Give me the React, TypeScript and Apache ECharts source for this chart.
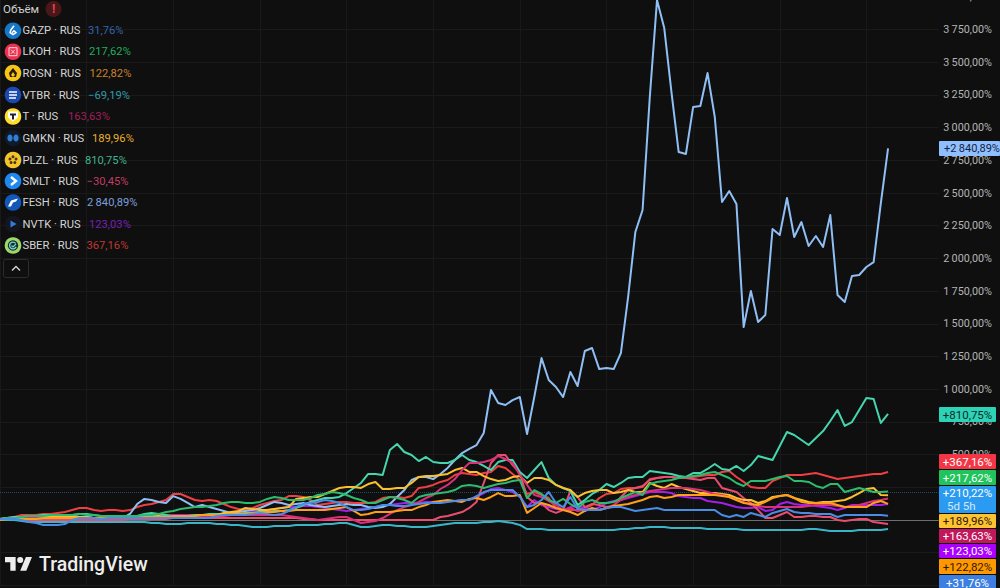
import React, { useEffect, useRef } from "react";
import * as echarts from "echarts";

const gazp = [8,8,8,0,-15,-23,-38,-38,-38,-31,0,15,15,15,8,15,15,15,15,15,15,15,15,15,15,15,15,15,15,15,31,38,38,38,38,46,54,46,38,46,69,99,122,130,138,153,145,130,99,76,76,84,99,115,115,107,107,115,122,130,130,130,138,145,153,153,183,214,229,229,229,229,176,99,115,153,214,130,99,176,84,76,76,76,92,99,99,84,69,76,84,92,76,76,76,76,76,76,76,76,38,23,38,23,54,38,23,54,69,84,61,54,54,46,46,46,23,38,38,38,38,38,38,31.76];
const lkoh = [8,15,15,23,31,31,31,38,38,38,38,46,38,38,31,31,31,31,31,31,38,38,46,61,69,84,92,99,99,107,115,130,138,138,130,130,138,161,176,168,153,153,153,168,191,199,214,206,191,168,153,130,130,153,176,168,153,130,176,191,199,206,214,229,260,268,260,245,260,275,283,298,306,168,229,199,153,130,161,122,92,138,153,130,130,138,168,191,214,191,275,291,298,306,321,329,336,344,359,367,344,321,283,260,298,298,298,313,329,336,298,298,291,260,245,275,275,214,229,245,229,214,214,217.62];
const rosn = [0,8,8,8,8,8,15,15,15,15,15,15,15,15,15,15,15,15,23,23,23,23,23,23,31,31,31,31,38,38,38,38,46,46,46,54,54,61,61,69,69,76,76,76,76,76,84,92,99,69,38,46,61,61,61,69,76,76,99,115,138,145,153,145,138,161,168,153,176,206,183,183,191,54,92,130,115,92,76,61,38,69,92,76,92,107,115,122,138,153,176,183,168,176,191,191,191,191,191,191,183,176,153,130,122,115,138,168,183,191,168,138,130,130,130,130,115,99,99,99,99,130,145,122.82];
const vtbr = [0,0,0,-8,-15,-15,-15,-15,-15,-15,-15,-15,-15,-15,-15,-15,-15,-15,-15,-15,-15,-23,-23,-31,-31,-31,-23,-23,-23,-23,-31,-31,-38,-38,-46,-54,-54,-54,-46,-46,-46,-38,-38,-38,-38,-31,-31,-23,-23,-38,-54,-54,-46,-38,-38,-46,-46,-54,-54,-54,-46,-38,-31,-23,-23,-23,-23,-15,-15,-8,-15,-23,-38,-69,-69,-69,-76,-76,-76,-76,-76,-76,-76,-76,-76,-76,-69,-69,-61,-61,-54,-54,-54,-61,-61,-61,-61,-61,-69,-69,-69,-69,-69,-76,-76,-76,-76,-76,-76,-76,-76,-76,-69,-69,-76,-84,-84,-84,-84,-76,-76,-76,-76,-69.19];
const tcs = [8,8,8,15,15,15,15,15,15,15,15,15,15,15,15,15,15,15,15,23,23,23,23,23,31,31,31,31,31,31,31,31,38,38,38,38,38,38,38,38,31,23,15,8,0,8,15,23,23,0,-23,-15,-8,15,46,76,99,115,138,168,191,237,268,313,382,436,436,443,459,489,466,436,344,268,191,176,145,115,76,92,69,76,76,76,92,115,153,176,191,206,222,229,237,245,245,245,237,229,214,199,191,176,153,138,115,107,99,99,99,99,99,99,107,115,115,115,107,99,107,115,130,145,153,163.63];
const gmkn = [8,8,15,15,15,15,23,23,31,31,31,23,23,15,15,15,15,15,23,23,23,31,31,23,31,31,31,31,38,38,38,54,61,69,92,84,76,76,84,92,99,161,168,176,176,199,222,245,252,252,245,275,291,237,237,245,245,283,329,336,336,344,352,382,398,367,367,336,313,298,306,329,336,283,321,321,306,268,245,229,176,206,222,229,229,206,214,229,214,214,283,260,245,275,252,237,222,206,206,206,199,191,168,153,153,130,145,176,183,191,168,153,138,130,138,138,145,153,176,206,237,245,191,189.96];
const plzl = [8,15,15,23,31,31,38,38,38,38,38,46,46,38,31,23,23,23,23,31,46,54,46,38,31,31,31,38,38,46,46,46,46,46,54,54,61,61,69,69,76,92,115,138,153,168,168,176,206,245,283,352,352,344,535,581,520,497,451,482,443,436,436,459,497,459,443,413,382,443,459,459,367,321,382,443,321,268,245,222,115,153,199,229,275,252,283,321,329,329,375,367,359,352,336,329,359,359,390,428,390,382,413,375,420,489,474,459,566,673,650,612,573,627,680,757,841,719,749,841,933,925,742,810.75];
const smlt = [8,8,8,8,0,0,0,0,0,0,0,0,0,0,0,0,0,0,8,8,8,8,8,8,15,15,15,15,15,15,15,15,15,15,15,15,15,15,15,15,15,15,8,8,0,0,0,0,0,0,0,0,0,0,0,0,0,0,0,0,0,23,31,46,61,92,138,283,436,497,497,420,359,176,130,130,76,54,76,222,176,99,122,115,99,107,176,229,245,260,306,321,329,329,321,321,313,306,321,321,245,229,214,168,130,76,15,15,38,61,23,23,31,31,23,23,0,-8,0,8,8,-15,-23,-30.45];
const fesh = [8,15,23,23,15,31,31,23,23,23,23,23,23,15,15,15,15,15,46,122,161,153,138,130,183,161,130,99,115,99,84,69,54,61,69,76,92,115,138,130,115,122,130,115,107,99,107,115,122,115,115,99,92,99,122,176,229,306,329,329,313,352,398,459,512,543,573,665,994,895,879,917,940,657,940,1238,1070,1017,940,1131,1024,1292,1315,1154,1162,1154,1277,1705,2202,2370,3234,3975,3761,3272,2813,2798,3157,3165,3417,3081,2431,2515,2416,1475,1751,1514,1567,2225,2179,2462,2164,2278,2095,2171,2087,2332,1720,1667,1865,1873,1934,1972,2423,2840.89];
const nvtk = [8,8,8,15,15,15,15,15,15,15,15,15,15,15,15,15,15,15,15,23,23,23,23,31,38,38,38,38,38,38,46,46,46,54,54,61,69,76,84,92,99,99,107,107,99,92,84,76,69,76,84,92,99,107,115,122,130,130,130,138,138,138,145,145,153,153,176,206,237,245,229,214,183,99,153,115,99,84,76,99,107,92,76,99,130,145,153,168,183,199,214,214,214,206,183,176,168,168,145,138,130,115,99,92,92,99,69,76,122,138,122,115,115,107,99,92,76,92,115,115,115,115,115,123.03];
const sber = [8,15,23,38,38,38,46,46,54,61,76,92,92,76,69,76,76,69,76,99,115,122,138,153,199,199,176,153,145,153,145,122,99,84,76,92,115,130,145,153,183,183,176,153,115,122,130,138,138,130,130,130,138,168,176,176,168,183,245,252,268,291,306,344,359,352,344,359,367,413,398,352,306,199,214,191,168,92,76,76,76,92,115,168,199,206,237,245,245,252,313,321,329,329,321,329,329,336,344,344,367,375,329,291,252,245,245,298,321,344,344,344,352,359,344,329,313,321,329,336,344,352,352,367.16];

const tickers = ["GAZP","LKOH","ROSN","VTBR","T","GMKN","PLZL","SMLT","FESH","NVTK","SBER"];
const changes = ["31,76%","217,62%","122,82%","−69,19%","163,63%","189,96%","810,75%","−30,45%","2\u2009840,89%","123,03%","367,16%"];
const seriesValues = [gazp,lkoh,rosn,vtbr,tcs,gmkn,plzl,smlt,fesh,nvtk,sber];
const lineColors = ["#4a8de6","#2dbb6e","#ff9f1a","#3ab5c8","#d9307a","#fbc02d","#45d6ae","#ea4d70","#90bff5","#a51fe8","#ef3f42"];
const changeColors = ["#3563ad","#1fae5a","#c9802a","#2f9cab","#a01f5c","#e6ae2e","#3fb392","#c23c64","#7d9fd8","#7a1fb8","#c0382f"];
const priceTags = ["+2\u2009840,89%","+810,75%","+367,16%","+217,62%","+189,96%","+163,63%","+123,03%","+122,82%","+31,76%"];
const sberTagNote = ["+210,22%","5d 5h"];
const yTicks = [500,750,1000,1250,1500,1750,2000,2250,2500,2750,3000,3250,3500,3750,4000];
const currentLine = 210.22;

const tagBoxes: [number, number, string, string][] = [
  [141,15,"#90bfff","#10233f"],[407,15,"#2cd3b6","#0d2a25"],[454,15,"#f23645","#ffffff"],[470,15,"#1fc45c","#ffffff"],
  [514,14,"#ffc233","#2a2000"],[529,14,"#c2185b","#ffffff"],[544,14,"#aa00ff","#ffffff"],[559,15,"#ff9800","#2a1a00"],[575,15,"#3d7fe0","#ffffff"],
];
const rowY = [30.7,51.7,73,95,116.5,138,160,181,202.5,224,245.5];
const changeX = [88,89,89.5,88,68,92,85,86.5,87,89,86.5];
const iconFill = ["#1577c9","#e8324f","#f5c518","#1a4ab0","#ffdd2d","#101a28","#f5c42c","#1e88f0","#1258b8","#14161f","#9fd86a"];

echarts.graphic.registerShape("tvlogo", echarts.graphic.extendPath("M14 22H7V11H0V4h14v18zM28 22h-8l7.5-18h8L28 22zM20 4a4 4 0 1 1 0 8a4 4 0 1 1 0-8z", {}));

const fmt = (v: number) => {
  const s = v.toFixed(2).replace(".", ",");
  const [a, b] = s.split(",");
  return (a.length > 3 ? a.slice(0, a.length - 3) + "\u2009" + a.slice(-3) : a) + "," + b + "%";
};

function iconGlyph(i: number, cy: number): any[] {
  const cx = 13, z = 52;
  const line = (pts: number[][], stroke: string, w = 1.5) => ({ type: "polyline", z, shape: { points: pts.map(p => [cx + p[0], cy + p[1]]) }, style: { stroke, lineWidth: w, fill: "none" } });
  const poly = (pts: number[][], fill: string) => ({ type: "polygon", z, shape: { points: pts.map(p => [cx + p[0], cy + p[1]]) }, style: { fill } });
  switch (i) {
    case 0: return [line([[1,-5],[-2,-1],[-3,2],[0,4],[3,2],[1,0],[-1,2]], "#ffffff")];
    case 1: return [{ type: "rect", z, shape: { x: cx - 4, y: cy - 4, width: 8, height: 8 }, style: { stroke: "#ffd5dc", fill: "none", lineWidth: 1 } }, line([[-2,-2],[2,2]], "#ffd5dc", 1), line([[2,-2],[-2,2]], "#ffd5dc", 1)];
    case 2: return [poly([[0,-5],[4,0],[3,4],[-3,4],[-4,0]], "#2a1b00"), poly([[0,-1],[2,2],[0,4],[-2,2]], "#f5c518")];
    case 3: return [line([[-4,-3],[4,-3]], "#ffffff"), line([[-4,0],[4,0]], "#ffffff"), line([[-4,3],[3,3]], "#ffffff")];
    case 4: return [poly([[-5,-5],[5,-5],[5,1],[0,5],[-5,1]], "#ffffff"), poly([[-3,-3],[3,-3],[3,-1],[1,-1],[1,3],[-1,3],[-1,-1],[-3,-1]], "#222222")];
    case 5: return [{ type: "ellipse", z, shape: { cx: cx - 3, cy, rx: 2.6, ry: 3.6 }, style: { fill: "#2f7fd8" } }, { type: "ellipse", z, shape: { cx: cx + 3, cy, rx: 2.6, ry: 3.6 }, style: { fill: "#2f7fd8" } }];
    case 6: return [0, 1, 2, 3, 4].map(k => ({ type: "circle", z, shape: { cx: cx + 3.2 * Math.cos(k * 1.257 - 1.57), cy: cy + 3.2 * Math.sin(k * 1.257 - 1.57), r: 1.5 }, style: { fill: "#4a3a10" } }));
    case 7: return [line([[-2,-4],[3,0],[-2,4]], "#ffffff", 2.4)];
    case 8: return [poly([[-5,4],[-2,-2],[5,-4],[3,-1],[0,0],[-2,4]], "#ffffff")];
    case 9: return [poly([[-2.5,-3.5],[3.5,0],[-2.5,3.5]], "#2d7ee0")];
    default: return [{ type: "circle", z, shape: { cx, cy, r: 5.2 }, style: { fill: "#1c2a2e" } }, { type: "arc", z, shape: { cx, cy, r: 3.4, startAngle: 0.4, endAngle: 5.6 }, style: { stroke: "#6fd8d0", lineWidth: 1.4, fill: "none" } }, line([[-1.5,0],[0,1.5],[3,-1.5]], "#6fd8d0", 1.2)];
  }
}

export default function App() {
  const ref = useRef<HTMLDivElement>(null);
  useEffect(() => {
    document.body.style.margin = "0";
    document.body.style.background = "#0f0f0f";
    const chart = echarts.init(ref.current!, undefined, { renderer: "svg" });
    const font = "Roboto, sans-serif";
    const cats = Array.from({ length: 131 }, (_, i) => String(i));

    const graphics: any[] = [];
    const z = 50;
    tagBoxes.forEach((b, i) => {
      graphics.push({ type: "rect", z, shape: { x: 939, y: b[0], width: i === 0 ? 61 : 57, height: b[1], r: 1 }, style: { fill: b[2] } });
      graphics.push({ type: "text", z: z + 1, x: i === 0 ? 972 : 967.5, y: b[0] + b[1] / 2, style: { text: priceTags[i], fill: b[3], font: `${i === 0 ? 11 : 11.5}px ${font}`, align: "center", verticalAlign: "middle" } });
    });
    graphics.push({ type: "rect", z, shape: { x: 939, y: 486, width: 57, height: 27, r: 1 }, style: { fill: "#2a9bf0" } });
    graphics.push({ type: "text", z: z + 1, x: 967.5, y: 493, style: { text: sberTagNote[0], fill: "#ffffff", font: `11.5px ${font}`, align: "center", verticalAlign: "middle" } });
    graphics.push({ type: "text", z: z + 1, x: 947, y: 506, style: { text: sberTagNote[1], fill: "#d3e9fb", font: `11.5px ${font}`, align: "left", verticalAlign: "middle" } });

    graphics.push({ type: "text", z, x: 3, y: 9, style: { text: "Объём", fill: "#cfcfcf", font: `11.5px ${font}`, verticalAlign: "middle" } });
    graphics.push({ type: "circle", z, shape: { cx: 53.5, cy: 9, r: 8 }, style: { fill: "#4a1719" } });
    graphics.push({ type: "text", z: z + 1, x: 53.5, y: 9, style: { text: "!", fill: "#e8434a", font: `bold 12px ${font}`, align: "center", verticalAlign: "middle" } });

    tickers.forEach((t, i) => {
      const y = rowY[i];
      graphics.push({ type: "circle", z: z + 1, shape: { cx: 13, cy: y, r: 8.3 }, style: { fill: iconFill[i] } });
      graphics.push(...iconGlyph(i, y));
      graphics.push({ type: "text", z, x: 22.5, y, style: { text: `${t} · RUS`, fill: "#d4d4d4", font: `11.2px ${font}`, verticalAlign: "middle" } });
      graphics.push({ type: "text", z, x: changeX[i], y, style: { text: changes[i], fill: changeColors[i], font: `11.2px ${font}`, verticalAlign: "middle" } });
    });

    graphics.push({ type: "rect", z, shape: { x: 3.5, y: 259.5, width: 25, height: 18, r: 2 }, style: { fill: "#0f0f0f", stroke: "#2c2c2c", lineWidth: 1 } });
    graphics.push({ type: "polyline", z: z + 1, shape: { points: [[12, 270.5], [16, 266.5], [20, 270.5]] }, style: { stroke: "#d8d8d8", lineWidth: 1.3, fill: "none" } });

    graphics.push({ type: "tvlogo", z, x: 5, y: 554, scaleX: 0.76, scaleY: 0.76, style: { fill: "#ededed" } });
    graphics.push({ type: "text", z, x: 39, y: 564.5, style: { text: "TradingView", fill: "#ededed", font: `500 19.5px ${font}`, verticalAlign: "middle" } });

    chart.setOption({
      animation: false,
      backgroundColor: "#0f0f0f",
      grid: { left: 0, top: -3.2, width: 938.6, height: 588.6, containLabel: false, outerBoundsMode: "none" },
      xAxis: {
        type: "category", data: cats, boundaryGap: false,
        axisLine: { show: false }, axisTick: { show: false }, axisLabel: { show: false },
        splitLine: { show: true, interval: 11, lineStyle: { color: "#191919", width: 1 } },
      },
      yAxis: {
        type: "value", position: "right", min: -500, max: 4000, interval: 250,
        axisLine: { show: false }, axisTick: { show: false },
        splitLine: { show: true, lineStyle: { color: "#1a1a1a", width: 1 } },
        axisLabel: {
          show: true, align: "right", margin: 53.4, color: "#b4b4b4", fontFamily: font, fontSize: 10.8,
          showMaxLabel: true, showMinLabel: false,
          formatter: (v: number) => (yTicks.includes(v) ? fmt(v) : ""),
        },
      },
      series: tickers.map((t, i) => ({
        name: t, type: "line", data: seriesValues[i], symbol: "none", z: 20 - i, smooth: false,
        lineStyle: { color: lineColors[i], width: 2, join: "round" },
        ...(i === 0 ? {
          markLine: {
            silent: true, symbol: "none", label: { show: false },
            data: [
              { yAxis: 0, lineStyle: { color: "#6f6f6f", width: 1, type: "solid" } },
              { yAxis: currentLine, lineStyle: { color: "#234a66", width: 1, type: "dotted" } },
            ],
          },
        } : {}),
      })),
      graphic: { elements: graphics },
    });
    return () => chart.dispose();
  }, []);
  return <div ref={ref} style={{ position: "fixed", left: 0, top: 0, width: 1000, height: 588 }} />;
}
